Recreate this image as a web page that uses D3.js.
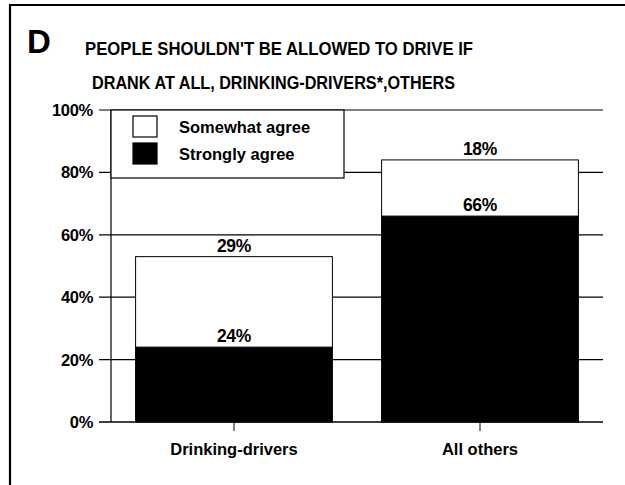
<!DOCTYPE html>
<html>
<head>
<meta charset="utf-8">
<script src="https://cdn.jsdelivr.net/npm/d3@7"></script>
<style>
  html, body { margin: 0; padding: 0; background: #fff; }
  svg { display: block; font-family: "Liberation Sans", Arial, sans-serif; }
</style>
</head>
<body>
<svg id="chart" width="625" height="485"></svg>
<script>
const categories = ["Drinking-drivers", "All others"];
const seriesNames = ["Strongly agree", "Somewhat agree"];
const stronglyAgree = [24, 66];
const somewhatAgree = [29, 18];
const yTicks = [0, 20, 40, 60, 80, 100];
const titleLines = ["PEOPLE SHOULDN'T BE ALLOWED TO DRIVE IF", "DRANK AT ALL, DRINKING-DRIVERS*,OTHERS"];
const panelLetter = "D";

(function () {
const svg = d3.select("#chart");
const plotL = 111, plotR = 603, plotT = 110, plotB = 422;

const x = d3.scaleBand().domain(categories).range([plotL, plotR]).paddingInner(0.2).paddingOuter(0.1);
const y = d3.scaleLinear().domain([0, 100]).range([plotB, plotT]);

// frame
svg.append("path").attr("d", "M10,485 L10,5 L625,5")
  .attr("fill", "none").attr("stroke", "#000").attr("stroke-width", 2.2);

// panel letter and title
svg.append("text").attr("x", 27).attr("y", 53).attr("font-size", 33).attr("font-weight", "bold")
  .text(panelLetter);
const titleBox = [{ x: 85, w: 388 }, { x: 92, w: 363 }];
svg.append("g").selectAll("text").data(titleLines).enter().append("text")
  .attr("x", (d, i) => titleBox[i].x).attr("y", (d, i) => 55 + i * 33.5)
  .attr("font-size", 17.5).attr("font-weight", "bold")
  .attr("textLength", (d, i) => titleBox[i].w).attr("lengthAdjust", "spacingAndGlyphs")
  .text(d => d);

// gridlines and y tick labels
const g = svg.append("g");
g.selectAll("line").data(yTicks).enter().append("line")
  .attr("x1", plotL - 12).attr("x2", plotR)
  .attr("y1", d => y(d)).attr("y2", d => y(d))
  .attr("stroke", "#000").attr("stroke-width", 1.2);
g.selectAll("text").data(yTicks).enter().append("text")
  .attr("x", 93).attr("y", d => y(d)).attr("dy", "0.36em")
  .attr("text-anchor", "end").attr("font-size", 16.5).attr("font-weight", "bold")
  .attr("letter-spacing", -0.3)
  .text(d => d + "%");
svg.append("line").attr("x1", plotL).attr("x2", plotL).attr("y1", plotT).attr("y2", plotB)
  .attr("stroke", "#000").attr("stroke-width", 1.2);

// stacked bars
const rows = categories.map((c, i) => ({ cat: c, "Strongly agree": stronglyAgree[i], "Somewhat agree": somewhatAgree[i] }));
const stack = d3.stack().keys(seriesNames)(rows);
const fills = { "Strongly agree": "#000", "Somewhat agree": "#fff" };
stack.forEach(layer => {
  svg.append("g").selectAll("rect").data(layer).enter().append("rect")
    .attr("x", d => x(d.data.cat))
    .attr("width", x.bandwidth())
    .attr("y", d => y(d[1]))
    .attr("height", d => y(d[0]) - y(d[1]))
    .attr("fill", fills[layer.key])
    .attr("stroke", "#000").attr("stroke-width", 1);
});
stack.forEach(layer => {
  svg.append("g").selectAll("text").data(layer).enter().append("text")
    .attr("x", d => x(d.data.cat) + x.bandwidth() / 2)
    .attr("y", d => y(d[1]) - 5)
    .attr("text-anchor", "middle").attr("font-size", 17.5).attr("font-weight", "bold")
    .attr("letter-spacing", -0.3)
    .text(d => (d[1] - d[0]) + "%");
});

// baseline
svg.append("line").attr("x1", plotL - 12).attr("x2", plotR).attr("y1", y(0)).attr("y2", y(0))
  .attr("stroke", "#000").attr("stroke-width", 1.2);

// x ticks and labels
svg.append("g").selectAll("line").data(categories).enter().append("line")
  .attr("x1", d => x(d) + x.bandwidth() / 2).attr("x2", d => x(d) + x.bandwidth() / 2)
  .attr("y1", y(0)).attr("y2", y(0) + 9)
  .attr("stroke", "#000").attr("stroke-width", 1);
svg.append("g").selectAll("text").data(categories).enter().append("text")
  .attr("x", d => x(d) + x.bandwidth() / 2).attr("y", 455)
  .attr("text-anchor", "middle").attr("font-size", 16.5).attr("font-weight", "bold")
  .text(d => d);

// legend
const legend = svg.append("g");
legend.append("rect").attr("x", plotL).attr("y", plotT).attr("width", 233).attr("height", 68)
  .attr("fill", "#fff").attr("stroke", "#000").attr("stroke-width", 1.2);
const legendItems = ["Somewhat agree", "Strongly agree"];
legend.append("g").selectAll("rect").data(legendItems).enter().append("rect")
  .attr("x", 133).attr("y", (d, i) => 116 + i * 27).attr("width", 24).attr("height", 21)
  .attr("fill", d => fills[d]).attr("stroke", "#000").attr("stroke-width", 1.2);
legend.append("g").selectAll("text").data(legendItems).enter().append("text")
  .attr("x", 179).attr("y", (d, i) => 127 + i * 27).attr("dy", "0.36em")
  .attr("font-size", 16.5).attr("font-weight", "bold")
  .text(d => d);
})();
</script>
</body>
</html>
